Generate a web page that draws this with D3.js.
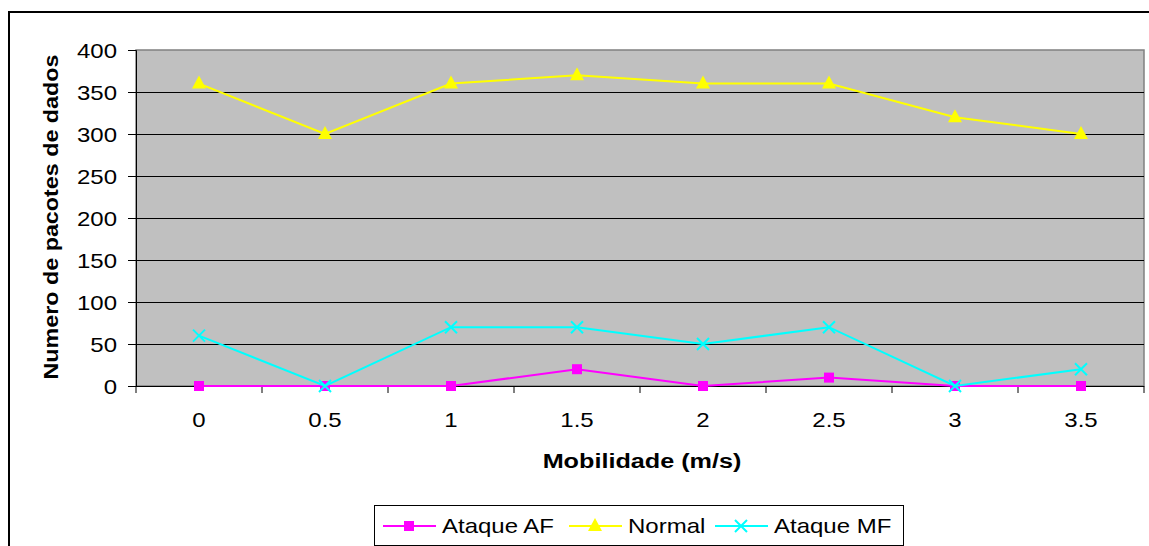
<!DOCTYPE html>
<html><head><meta charset="utf-8">
<script src="https://cdn.jsdelivr.net/npm/d3@7"></script>
<style>body{margin:0;background:#fff}svg{display:block;font-family:Arial,"Liberation Sans",sans-serif}</style>
</head><body><svg id="c" width="1149" height="546"></svg>
<script>
const categories = ["0","0.5","1","1.5","2","2.5","3","3.5"];
const ataqueAF = [0,0,0,20,0,10,0,0];
const normal = [360,300,360,370,360,360,320,300];
const ataqueMF = [60,0,70,70,50,70,0,20];
const yTicks = [0,50,100,150,200,250,300,350,400];
const seriesNames = ["Ataque AF","Normal","Ataque MF"];

const svg = d3.select("#c");
const L=136, R=1144, T=50, B=386;
const SX = 1.2;
const x = d3.scaleBand().domain(categories).range([L,R]);
const y = d3.scaleLinear().domain([0,400]).range([B,T]);

function stext(g,px,py,str,opt){
  const t = g.append("text").attr("transform",`translate(${px},${py}) ${opt.rot?`rotate(${opt.rot})`:""} scale(${opt.sx||SX},1)`)
    .attr("text-anchor",opt.anchor||"start").attr("font-size",opt.size||20).attr("fill","#000").text(str);
  if(opt.bold) t.attr("font-weight","bold");
  return t;
}

// outer frame
svg.append("rect").attr("x",9).attr("y",12).attr("width",1160).attr("height",560)
  .attr("fill","none").attr("stroke","#000").attr("stroke-width",2);

// plot area
svg.append("rect").attr("x",L).attr("y",T).attr("width",R-L).attr("height",B-T)
  .attr("fill","#c0c0c0").attr("stroke","#808080").attr("stroke-width",1.5);

// gridlines
svg.append("g").selectAll("line").data(yTicks.filter(d=>d>0&&d<400)).join("line")
  .attr("x1",L).attr("x2",R).attr("y1",d=>Math.round(y(d))+0.5).attr("y2",d=>Math.round(y(d))+0.5)
  .attr("stroke","#000").attr("stroke-width",1);

// y axis
const ya = svg.append("g").attr("transform",`translate(${L},0)`)
  .call(d3.axisLeft(y).tickValues(yTicks).tickSize(8).tickFormat(""));
ya.select(".domain").attr("stroke","#000");
ya.selectAll(".tick").each(function(d){
  stext(d3.select(this),-19,7,d3.format("d")(d),{anchor:"end"});
});

// x axis with ticks at band boundaries
const xa = svg.append("g").attr("transform",`translate(0,${B})`);
xa.append("line").attr("x1",L).attr("x2",R).attr("y1",0.5).attr("y2",0.5).attr("stroke","#000");
const bounds = categories.map(c=>x(c)).concat([R]);
xa.selectAll("line.tk").data(bounds).join("line").attr("class","tk")
  .attr("x1",d=>d).attr("x2",d=>d).attr("y1",0).attr("y2",7).attr("stroke","#000");
categories.forEach(c=>stext(xa,x(c)+x.bandwidth()/2,41,c,{anchor:"middle"}));

// titles
stext(svg,642,468,"Mobilidade (m/s)",{anchor:"middle",bold:true,size:21});
stext(svg,58,217,"Numero de pacotes de dados",{anchor:"middle",bold:true,size:21,rot:-90,sx:1.11});

const cx = d=>x(d)+x.bandwidth()/2;
const line = d3.line().x((d,i)=>cx(categories[i])).y(d=>y(d));

function square(g,px,py,col){g.append("rect").attr("x",px-5).attr("y",py-5).attr("width",10).attr("height",10).attr("fill",col);}
function tri(g,px,py,col){g.append("path").attr("d",`M${px},${py-8}L${px+7},${py+5}L${px-7},${py+5}Z`).attr("fill",col);}
function cross(g,px,py,col){g.append("path").attr("d",`M${px-6},${py-6}L${px+6},${py+6}M${px-6},${py+6}L${px+6},${py-6}`).attr("stroke",col).attr("stroke-width",2).attr("fill","none");}

const series = [
  {name:seriesNames[0],vals:ataqueAF,col:"#ff00ff",mark:square},
  {name:seriesNames[1],vals:normal,col:"#ffff00",mark:tri},
  {name:seriesNames[2],vals:ataqueMF,col:"#00ffff",mark:cross}
];
series.forEach(s=>{
  const g = svg.append("g");
  g.append("path").attr("d",line(s.vals)).attr("fill","none").attr("stroke",s.col).attr("stroke-width",2);
  s.vals.forEach((v,i)=>s.mark(g,cx(categories[i]),y(v),s.col));
});

// legend
svg.append("rect").attr("x",374.5).attr("y",505.5).attr("width",529).attr("height",40)
  .attr("fill","#fff").attr("stroke","#000").attr("stroke-width",1);
const lx = [383,569,715];
series.forEach((s,i)=>{
  const g = svg.append("g");
  const ly = 526;
  g.append("line").attr("x1",lx[i]).attr("x2",lx[i]+53).attr("y1",ly).attr("y2",ly).attr("stroke",s.col).attr("stroke-width",2);
  s.mark(g,lx[i]+26,ly,s.col);
  stext(g,lx[i]+59,ly+7,s.name,{size:20});
});
</script></body></html>
